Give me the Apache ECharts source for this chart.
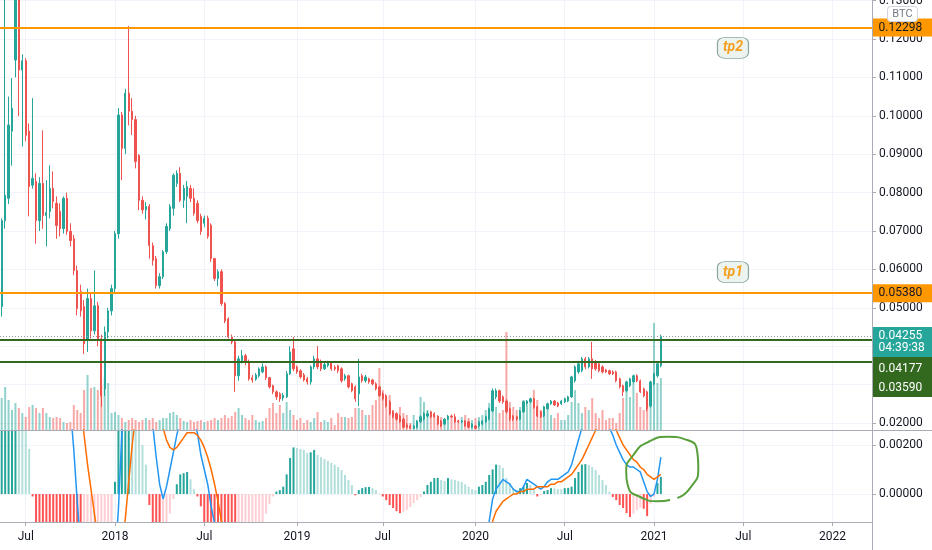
<!DOCTYPE html>
<html>
<head>
<meta charset="utf-8">
<script src="https://cdn.jsdelivr.net/npm/echarts@6/dist/echarts.min.js"></script>
<style>html,body{margin:0;padding:0;background:#ffffff}#chart{width:932px;height:550px}</style>
</head>
<body>
<div id="chart"></div>
<script>
// ---------- data (weekly bars) ----------
const firstWeek = '2017-05-15';
const weekCount = 254; // visible weekly slots, including empty future space

const opens = [
.0503,.0727,.0785,.0960,.1145,.1340,.1119,.1143,.0960,.0819,
.0829,.0727,.0824,.0740,.0751,.0811,.0772,.0751,.0706,.0785,
.0699,.0680,.0597,.0542,.0503,.0419,.0524,.0440,.0505,.0419,
.0289,.0437,.0492,.0550,.0693,.1002,.0915,.1059,.1012,.0990,
.0897,.0780,.0755,.0764,.0662,.0628,.0558,.0581,.0646,.0706,
.0759,.0824,.0850,.0780,.0790,.0811,.0785,.0772,.0738,.0720,
.0733,.0715,.0628,.0576,.0594,.0511,.0471,.0424,.0411,.0323,
.0362,.0375,.0360,.0318,.0314,.0323,.0333,.0346,.0318,.0297,
.0281,.0276,.0265,.0268,.0328,.0393,.0346,.0336,.0325,.0315,
.0307,.0346,.0367,.0359,.0341,.0350,.0356,.0345,.0349,.0341,
.0315,.0323,.0302,.0294,.0276,.0323,.0310,.0315,.0312,.0302,
.0294,.0276,.0271,.0255,.0229,.0224,.0218,.0210,.0195,.0192,
.0186,.0189,.0203,.0210,.0218,.0229,.0224,.0218,.0205,.0197,
.0210,.0218,.0216,.0205,.0203,.0205,.0203,.0189,.0192,.0192,
.0197,.0203,.0210,.0231,.0268,.0284,.0268,.0257,.0237,.0218,
.0216,.0210,.0229,.0250,.0255,.0263,.0242,.0229,.0218,.0237,
.0250,.0257,.0252,.0250,.0255,.0257,.0268,.0310,.0333,.0336,
.0367,.0346,.0367,.0359,.0354,.0346,.0338,.0336,.0333,.0333,
.0315,.0297,.0284,.0297,.0307,.0323,.0310,.0289,.0281,.0244,
.0302,.0323,.0349];
const highs = [
.0733,.1330,.1050,.1098,.1380,.1400,.1160,.1150,.0980,.1046,
.0850,.0840,.0962,.0832,.0871,.0855,.0790,.0772,.0790,.0800,
.0720,.0690,.0610,.0560,.0520,.0550,.0540,.0597,.0515,.0430,
.0451,.0500,.0560,.0700,.1020,.1010,.1070,.1234,.1046,.1000,
.0900,.0790,.0775,.0770,.0670,.0635,.0590,.0650,.0720,.0770,
.0850,.0858,.0866,.0820,.0830,.0820,.0811,.0780,.0745,.0740,
.0740,.0720,.0630,.0600,.0600,.0515,.0475,.0430,.0415,.0375,
.0390,.0380,.0365,.0325,.0330,.0345,.0355,.0350,.0320,.0300,
.0285,.0280,.0278,.0335,.0400,.0424,.0350,.0340,.0330,.0320,
.0350,.0375,.0400,.0365,.0358,.0362,.0360,.0350,.0352,.0345,
.0328,.0326,.0305,.0298,.0367,.0328,.0325,.0318,.0315,.0306,
.0297,.0280,.0275,.0260,.0233,.0228,.0222,.0214,.0200,.0196,
.0195,.0208,.0220,.0228,.0231,.0232,.0228,.0220,.0208,.0213,
.0221,.0222,.0224,.0208,.0208,.0208,.0206,.0200,.0195,.0206,
.0208,.0219,.0240,.0290,.0290,.0287,.0272,.0262,.0240,.0221,
.0219,.0234,.0258,.0260,.0266,.0266,.0245,.0232,.0245,.0253,
.0260,.0260,.0255,.0260,.0266,.0271,.0323,.0350,.0358,.0372,
.0372,.0372,.0411,.0364,.0358,.0350,.0341,.0339,.0337,.0336,
.0318,.0300,.0310,.0318,.0326,.0327,.0313,.0292,.0284,.0310,
.0331,.0357,.0430];
const lows = [
.0477,.0706,.0770,.0870,.1100,.0999,.0920,.0934,.0738,.0810,
.0667,.0700,.0706,.0660,.0733,.0759,.0680,.0686,.0693,.0690,
.0660,.0585,.0480,.0477,.0380,.0385,.0420,.0430,.0400,.0242,
.0270,.0420,.0480,.0540,.0680,.0832,.0900,.0975,.0950,.0863,
.0754,.0745,.0730,.0628,.0610,.0550,.0550,.0575,.0640,.0700,
.0740,.0815,.0775,.0760,.0720,.0775,.0740,.0720,.0690,.0710,
.0680,.0620,.0570,.0556,.0505,.0460,.0420,.0405,.0281,.0310,
.0355,.0350,.0310,.0305,.0310,.0318,.0330,.0312,.0290,.0275,
.0260,.0255,.0258,.0265,.0325,.0335,.0328,.0315,.0308,.0300,
.0300,.0340,.0340,.0335,.0338,.0345,.0336,.0336,.0330,.0305,
.0310,.0290,.0280,.0255,.0244,.0305,.0305,.0302,.0298,.0285,
.0268,.0258,.0240,.0220,.0212,.0206,.0200,.0186,.0185,.0184,
.0184,.0186,.0200,.0206,.0214,.0212,.0214,.0194,.0189,.0194,
.0207,.0213,.0200,.0200,.0200,.0190,.0187,.0186,.0184,.0188,
.0194,.0200,.0207,.0228,.0262,.0252,.0250,.0224,.0205,.0205,
.0206,.0207,.0226,.0246,.0252,.0237,.0215,.0213,.0215,.0234,
.0247,.0244,.0241,.0247,.0252,.0254,.0265,.0305,.0328,.0332,
.0340,.0342,.0315,.0336,.0332,.0329,.0330,.0325,.0325,.0306,
.0290,.0270,.0280,.0293,.0303,.0306,.0278,.0267,.0230,.0240,
.0298,.0318,.0345];
const closes = [
.0727,.0793,.0976,.1020,.1340,.1119,.1143,.0949,.0816,.0837,
.0727,.0824,.0740,.0748,.0811,.0777,.0714,.0706,.0785,.0699,
.0675,.0597,.0498,.0492,.0406,.0524,.0440,.0505,.0419,.0270,
.0437,.0492,.0550,.0693,.1002,.0915,.1059,.1012,.0990,.0881,
.0780,.0755,.0764,.0662,.0623,.0558,.0581,.0646,.0712,.0764,
.0845,.0850,.0780,.0811,.0816,.0785,.0746,.0727,.0699,.0733,
.0686,.0628,.0576,.0594,.0511,.0466,.0424,.0411,.0323,.0367,
.0375,.0360,.0315,.0312,.0325,.0341,.0346,.0318,.0294,.0281,
.0268,.0263,.0272,.0328,.0385,.0341,.0333,.0320,.0312,.0307,
.0346,.0367,.0346,.0341,.0352,.0358,.0341,.0341,.0336,.0310,
.0323,.0294,.0284,.0263,.0320,.0310,.0320,.0307,.0302,.0289,
.0271,.0263,.0244,.0224,.0216,.0210,.0203,.0189,.0189,.0186,
.0192,.0205,.0216,.0224,.0224,.0216,.0216,.0197,.0192,.0210,
.0218,.0216,.0203,.0203,.0205,.0192,.0189,.0197,.0186,.0203,
.0205,.0216,.0237,.0284,.0284,.0257,.0255,.0229,.0210,.0210,
.0210,.0231,.0255,.0257,.0263,.0240,.0218,.0216,.0242,.0250,
.0257,.0247,.0244,.0257,.0263,.0268,.0320,.0346,.0354,.0367,
.0346,.0367,.0341,.0341,.0336,.0333,.0333,.0328,.0328,.0310,
.0294,.0281,.0307,.0315,.0323,.0310,.0281,.0271,.0237,.0307,
.0328,.0354,.04255];
const volumes = [
32,43,30,20,27,22,17,13,23,25,
22,17,22,17,13,12,13,12,8,7,
8,25,20,17,40,55,42,43,40,45,
53,47,17,18,15,12,8,10,12,10,
8,10,12,10,12,8,10,12,12,17,
18,15,12,9,8,10,8,9,10,8,
9,10,12,10,12,15,12,14,18,22,
15,12,10,15,10,8,9,12,22,27,
17,25,17,28,20,15,10,12,7,10,
8,12,18,8,10,8,12,5,17,13,
13,12,13,22,22,20,15,15,25,30,
62,40,33,35,20,17,23,17,15,7,
15,5,33,28,20,18,15,12,13,8,
12,13,10,10,13,15,12,10,12,13,
15,20,27,32,23,17,20,98,28,23,
20,23,30,25,28,40,30,20,18,23,
15,12,17,10,10,15,28,40,27,17,
23,20,32,17,12,20,10,12,12,7,
17,32,47,33,47,37,23,20,25,42,
107,47,52];
const macdHist = [
.0040,.0060,.0080,.0100,.0120,.0100,.0070,.0040,.00184,-.0001,
-.0015,-.0022,-.0028,-.0033,-.0037,-.0041,-.0045,-.0049,-.0053,-.0057,
-.0061,-.0065,-.0068,-.0071,-.0068,-.0063,-.0057,-.0050,-.0044,-.0040,
-.0032,-.0024,-.0016,.0005,.0030,.0045,.0055,.0060,.0045,.0036,
.0026,.0020,.0012,-.00045,-.0015,-.0022,-.0026,-.0022,-.0016,-.0008,
-.0002,.0004,.0008,.00085,.0009,.0006,.0002,-.0001,-.0005,-.0012,
-.0020,-.0028,-.0035,-.0041,-.0046,-.0050,-.0053,-.0055,-.0057,-.0052,
-.0046,-.0040,-.0034,-.0028,-.0023,-.0018,-.0012,-.0008,-.0004,-.0001,
.0001,.00016,.0003,.0008,.00147,.0019,.00188,.00184,.0018,.00167,
.0017,.0018,.0016,.0015,.00143,.00135,.00127,.0012,.0011,.00098,
.00078,.00057,.00037,-.00005,.00016,.00024,.00028,.00029,.00024,.00016,
.00002,-.0001,-.00025,-.00045,-.00057,-.0007,-.00078,-.00073,-.00065,-.00053,
-.00037,-.00025,-.00012,.0001,.00037,.0005,.00065,.00066,.00057,.00053,
.00065,.0006,.00057,.00053,.00049,.0004,.0003,.0002,.00016,.0003,
.00037,.0005,.00078,.001,.0012,.00118,.00106,.00065,.00045,.00024,
.00016,.00024,.0003,.00045,.00037,.00016,-.0001,-.00005,.00012,.00016,
.00024,.00023,.0002,.00019,.00024,.00025,.0003,.00065,.0009,.0012,
.00122,.00118,.0011,.00098,.00078,.00057,.00037,.0001,-.00012,-.00025,
-.00045,-.00057,-.00078,-.00094,-.0008,-.00065,-.00055,-.0006,-.0009,-.0004,
-.0001,.00045,.0007];
const macdLine = [
.0100,.0140,.0170,.0190,.0215,.0225,.0220,.0200,.0180,.0160,
.0140,.0125,.0110,.0098,.0090,.0082,.0072,.0062,.0052,.0044,
.0035,.0018,-.0003,-.0022,-.0040,-.0050,-.0058,-.0062,-.0068,-.0080,
-.0078,-.0070,-.0052,-.0028,-.0006,.0025,.0045,.0060,.0068,.0070,
.0065,.0058,.0048,.0038,.0028,.0015,.0004,-.0002,.0003,.0010,
.0017,.0024,.0030,.0033,.0034,.0032,.0029,.0025,.0016,.0010,
.0004,-.0005,-.0012,-.0020,-.0030,-.0040,-.0050,-.0057,-.0068,-.0072,
-.0074,-.0075,-.0076,-.0076,-.0074,-.0071,-.0068,-.0066,-.0065,-.0064,
-.0062,-.0060,-.0057,-.0050,-.0040,-.0033,-.0030,-.0028,-.0027,-.0026,
-.0024,-.0022,-.0022,-.0022,-.0022,-.0022,-.0022,-.0022,-.0022,-.0023,
-.0025,-.0027,-.0029,-.0031,-.0030,-.0029,-.0028,-.0028,-.0029,-.0030,
-.0032,-.0034,-.0036,-.0039,-.0042,-.0045,-.0048,-.0051,-.0053,-.0054,
-.0054,-.0053,-.0051,-.0048,-.0045,-.0042,-.0040,-.0038,-.0037,-.0035,
-.0033,-.0032,-.0031,-.0030,-.0029,-.0029,-.0028,-.0028,-.0028,-.0026,
-.0024,-.0020,-.0011,-.0002,.0002,.0004,.0006,.0005,.0004,.0002,
.0001,.0001,.0003,.0006,.0005,.0004,.0003,.0002,.0003,.0005,
.0006,.0006,.0006,.0007,.0008,.0009,.0012,.0017,.0022,.0027,
.0032,.0036,.0038,.0038,.0036,.0033,.0030,.0027,.0024,.0020,
.0017,.0014,.0012,.0011,.0011,.0010,.0009,.0005,.0001,-.0001,
.0000,.0006,.0015];
const signalLine = [
.0060,.0080,.0100,.0120,.0140,.0160,.0170,.0175,.0175,.0170,
.0165,.0158,.0150,.0142,.0134,.0126,.0118,.0108,.0098,.0088,
.0078,.0066,.0052,.0038,.0024,.0012,.0002,-.0008,-.0018,-.0028,
-.0035,-.0039,-.0040,-.0036,-.0030,-.0020,-.0010,.0005,.0020,.0032,
.0040,.0046,.0050,.0048,.0045,.0038,.0032,.0027,.0022,.0019,
.0018,.0019,.0021,.0023,.0025,.0025,.0025,.0024,.0022,.0019,
.0015,.0010,.0004,-.0003,-.0011,-.0020,-.0028,-.0036,-.0044,-.0050,
-.0055,-.0059,-.0062,-.0065,-.0066,-.0067,-.0067,-.0067,-.0066,-.0065,
-.0064,-.0063,-.0062,-.0060,-.0056,-.0052,-.0048,-.0045,-.0042,-.0040,
-.0038,-.0036,-.0035,-.0034,-.0033,-.0032,-.0031,-.0030,-.0029,-.0029,
-.0028,-.0028,-.0028,-.0028,-.0028,-.0028,-.0028,-.0028,-.0028,-.0029,
-.0030,-.0031,-.0032,-.0033,-.0035,-.0037,-.0039,-.0041,-.0043,-.0045,
-.0046,-.0047,-.0048,-.0048,-.0047,-.0046,-.0045,-.0043,-.0042,-.0041,
-.0039,-.0038,-.0036,-.0035,-.0034,-.0033,-.0032,-.0031,-.0030,-.0030,
-.0030,-.0030,-.0020,-.0011,-.0007,-.0005,-.0003,-.0002,-.0001,.0000,
.0000,.0001,.0001,.0002,.0002,.0002,.0003,.0003,.0003,.0003,
.0004,.0004,.0005,.0005,.0006,.0007,.0008,.0010,.0012,.0014,
.0017,.0020,.0023,.0026,.0028,.0029,.0030,.0030,.0029,.0026,
.0023,.0020,.0018,.0016,.0014,.0013,.0011,.0010,.0008,.0007,
.0006,.0007,.0008];

// annotations
const targetLevels = [0.12298, 0.05380];
const supportLevels = [0.04177, 0.03590];
const lastPrice = 0.04255;
const countdown = '04:39:38';
const currencyTag = 'BTC';
const targetNotes = [
  { text: 'tp2', week: 213, price: 0.1177 },
  { text: 'tp1', week: 213, price: 0.0593 }
];
// hand-drawn ring on the MACD pane: (week index, MACD value)
const ringWeeks  = [196.8, 200.5, 202.9, 202.6, 199.7, 194.1, 188.3, 184.0, 181.9, 182.5, 186.0, 190.9, 194.7];
const ringValues = [-.00016, .00024, .00106, .00171, .0022, .00233, .00212, .00159, .0009, .00029, -.00012, -.00029, -.00024];

// axis extents
const priceMin = 0.01817, priceMax = 0.13015, priceStep = 0.01;
const macdMin = -0.00114, macdMax = 0.00261, macdStep = 0.002;
const volumeAxisMax = 430;

// ---------- layout / style ----------
const W = 932, H = 550;
const GRID_RIGHT = 60;
const PRICE_TOP = 0, PRICE_H = 430, MACD_TOP = 430, MACD_H = 92;
const FONT = 'Roboto, "Liberation Sans", Arial, sans-serif';
const TXT = '#131722';
const GRIDC = '#f0f3fa';
const BORDER = '#a9acb5';
const UP = '#26a69a', DOWN = '#ef5350';

const weeks = [];
{
  const d0 = Date.parse(firstWeek + 'T00:00:00Z');
  for (let k = 0; k < weekCount; k++) weeks.push(new Date(d0 + k * 7 * 864e5).toISOString().slice(0, 10));
}
const isPeriodStart = (idx) => {
  if (idx <= 0) return false;
  const m = weeks[idx].slice(5, 7), pm = weeks[idx - 1].slice(5, 7);
  return m !== pm && (m === '01' || m === '07');
};
const timeLabel = (v) => v.slice(5, 7) === '01' ? v.slice(0, 4) : 'Jul';

const catAxis = (gridIndex, showLabels) => ({
  type: 'category', gridIndex, data: weeks, boundaryGap: true, position: 'bottom',
  axisLine: { show: false, onZero: false },
  axisTick: { show: showLabels, alignWithLabel: true, interval: (i) => isPeriodStart(i), length: 4, lineStyle: { color: BORDER } },
  axisLabel: { show: showLabels, interval: (i) => isPeriodStart(i), formatter: timeLabel, color: TXT, fontFamily: FONT, fontSize: 12, margin: 9 },
  splitLine: { show: true, alignWithLabel: true, interval: (i) => isPeriodStart(i), lineStyle: { color: GRIDC, width: 1 } },
  axisPointer: { show: false }
});

const valueLabel = { color: TXT, fontFamily: FONT, fontSize: 12, margin: 7, showMinLabel: false, showMaxLabel: false, formatter: (v) => v.toFixed(5) };

const histColors = macdHist.map((v, k) => {
  const prev = k > 0 ? macdHist[k - 1] : 0;
  if (v >= 0) return v > prev ? '#26a69a' : '#b2dfdb';
  return v < prev ? '#ff5252' : '#ffcdd2';
});

const chart = echarts.init(document.getElementById('chart'), null, { renderer: 'canvas', width: W, height: H });

const option = {
  animation: false,
  backgroundColor: '#ffffff',
  grid: [
    { left: 0, right: GRID_RIGHT, top: PRICE_TOP, height: PRICE_H, containLabel: false, outerBoundsMode: 'none' },
    { left: 0, right: GRID_RIGHT, top: MACD_TOP, height: MACD_H, containLabel: false, outerBoundsMode: 'none' }
  ],
  xAxis: [
    catAxis(0, false),
    catAxis(1, true),
    { type: 'value', gridIndex: 1, min: -0.5, max: weekCount - 0.5, show: false, axisLine: { onZero: false } }
  ],
  yAxis: [
    { type: 'value', gridIndex: 0, position: 'right', min: priceMin, max: priceMax,
      minInterval: priceStep, maxInterval: priceStep, splitNumber: 11,
      axisLine: { show: false, onZero: false }, axisTick: { show: true, length: 4, lineStyle: { color: BORDER } },
      axisLabel: valueLabel, splitLine: { lineStyle: { color: GRIDC } } },
    { type: 'value', gridIndex: 0, min: 0, max: volumeAxisMax, show: false, splitLine: { show: false }, axisLine: { onZero: false } },
    { type: 'value', gridIndex: 1, position: 'right', min: macdMin, max: macdMax,
      minInterval: macdStep, maxInterval: macdStep, splitNumber: 2,
      axisLine: { show: false, onZero: false }, axisTick: { show: true, length: 4, lineStyle: { color: BORDER } },
      axisLabel: valueLabel, splitLine: { lineStyle: { color: GRIDC } } }
  ],
  series: [
    { type: 'bar', name: 'Volume', xAxisIndex: 0, yAxisIndex: 1, barWidth: 2, silent: true, z: 1,
      data: volumes.map((v, k) => ({ value: v, itemStyle: { color: closes[k] >= opens[k] ? 'rgba(38,166,154,0.5)' : 'rgba(239,83,80,0.5)' } })) },
    { type: 'candlestick', name: 'Price', xAxisIndex: 0, yAxisIndex: 0, barWidth: 1.8, clip: true, silent: true, z: 3,
      data: opens.map((o, k) => [o, closes[k], lows[k], highs[k]]),
      itemStyle: { color: UP, color0: DOWN, borderColor: UP, borderColor0: DOWN, borderWidth: 1 },
      markLine: {
        silent: true, symbol: ['none', 'none'], animation: false, precision: 5, label: { show: false },
        data: [
          ...targetLevels.map(v => ({ yAxis: v, lineStyle: { color: '#ff9800', width: 2, type: 'solid' } })),
          ...supportLevels.map(v => ({ yAxis: v, lineStyle: { color: '#33691e', width: 2, type: 'solid' } })),
          { yAxis: lastPrice, lineStyle: { color: '#8e9ba6', width: 1, type: [1, 2] } }
        ]
      },
      markPoint: {
        silent: true, animation: false,
        data: targetNotes.map(n => ({
          coord: [n.week, n.price], symbol: 'roundRect', symbolSize: [31, 21],
          itemStyle: { color: '#edf4ef', borderColor: '#8ba79d', borderWidth: 1 },
          label: { show: true, position: 'inside', formatter: n.text, color: '#f5a020', fontSize: 14, fontWeight: 'bold', fontStyle: 'italic', fontFamily: FONT }
        }))
      }
    },
    { type: 'bar', name: 'Histogram', xAxisIndex: 1, yAxisIndex: 2, barWidth: 2, silent: true, clip: true,
      data: macdHist.map((v, k) => ({ value: v, itemStyle: { color: histColors[k] } })) },
    { type: 'line', name: 'MACD', xAxisIndex: 1, yAxisIndex: 2, data: macdLine, symbol: 'none', silent: true,
      lineStyle: { color: '#2196f3', width: 1.5 }, z: 4 },
    { type: 'line', name: 'Signal', xAxisIndex: 1, yAxisIndex: 2, data: signalLine, symbol: 'none', silent: true,
      lineStyle: { color: '#ff6d00', width: 1.5 }, z: 4 },
    { type: 'line', name: 'Ring', xAxisIndex: 2, yAxisIndex: 2, data: ringWeeks.map((x, k) => [x, ringValues[k]]),
      smooth: 0.6, symbol: 'none', silent: true, clip: false, lineStyle: { color: '#58a03b', width: 2 }, z: 6 }
  ]
};
chart.setOption(option);

// ---------- price-scale labels & pane borders (positioned through the chart's own scales) ----------
const xr = chart.convertToPixel({ xAxisIndex: 2 }, weekCount - 0.5);
const yp = (v) => chart.convertToPixel({ yAxisIndex: 0 }, v);
const X = Math.round(xr) + 0.5;
const els = [];
const addLine = (x1, y1, x2, y2) => els.push({ type: 'line', z: 50, silent: true, shape: { x1, y1, x2, y2 }, style: { stroke: BORDER, lineWidth: 1 } });
addLine(X, 0, X, H);
addLine(0, PRICE_TOP + PRICE_H + 0.5, W, PRICE_TOP + PRICE_H + 0.5);
addLine(0, MACD_TOP + MACD_H + 0.5, X, MACD_TOP + MACD_H + 0.5);

const addBox = (top, h, fill, rows) => {
  els.push({ type: 'rect', z: 60, silent: true, shape: { x: X + 0.5, y: top, width: W - X, height: h }, style: { fill } });
  rows.forEach(r => els.push({ type: 'text', z: 61, silent: true, x: X + 6, y: r.y,
    style: { text: r.text, fill: r.color, fontSize: 12, fontFamily: FONT, verticalAlign: 'middle', align: 'left' } }));
};
targetLevels.forEach(v => { const y = yp(v); addBox(y - 9, 18, '#ff9800', [{ text: v.toFixed(5), y: y, color: TXT }]); });
const yl = yp(lastPrice);
const tealTop = yl - 9.5;
addBox(tealTop, 30, '#26a69a', [{ text: lastPrice.toFixed(5), y: yl, color: '#ffffff' }, { text: countdown, y: yl + 12, color: '#ffffff' }]);
addBox(tealTop + 30, 40, '#33691e', [
  { text: supportLevels[0].toFixed(5), y: tealTop + 42, color: '#ffffff' },
  { text: supportLevels[1].toFixed(5), y: tealTop + 61, color: '#ffffff' }
]);
els.push({ type: 'rect', z: 62, silent: true, shape: { x: X + 15, y: 6.5, width: 30, height: 15, r: 3 }, style: { fill: '#ffffff', stroke: '#d1d4dc', lineWidth: 1 } });
els.push({ type: 'text', z: 63, silent: true, x: X + 30, y: 14.5, style: { text: currencyTag, fill: '#787b86', fontSize: 11, fontFamily: FONT, align: 'center', verticalAlign: 'middle' } });

chart.setOption({ graphic: { elements: els } });
</script>
</body>
</html>
